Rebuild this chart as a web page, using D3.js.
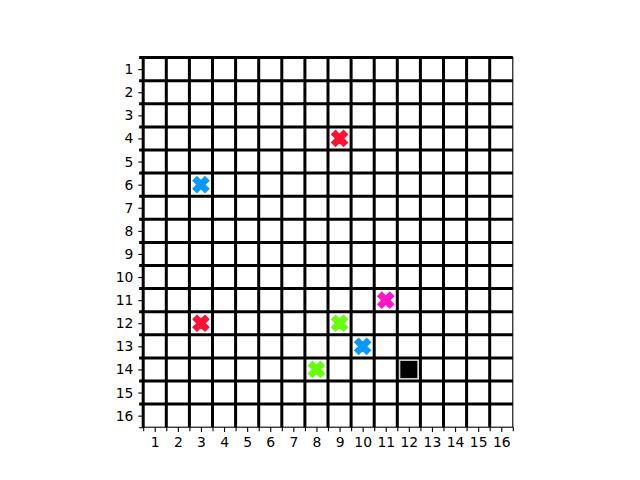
<!DOCTYPE html>
<html><head><meta charset="utf-8">
<script src="https://cdn.jsdelivr.net/npm/d3@7"></script>
<style>body{margin:0;background:#fff}svg{display:block}</style>
</head><body>
<svg id="c" width="640" height="480"></svg>
<script>
const ticks = d3.range(1, 17);
const boundaries = d3.range(0.5, 17, 1);
const markerX = [9, 3, 11, 3, 9, 10, 8];
const markerY = [4, 6, 11, 12, 12, 13, 14];
const markerColor = ["#ff1133", "#0a99ff", "#ff14c8", "#ff1133", "#66ff0a", "#0a99ff", "#66ff0a"];
const squareX = [12];
const squareY = [14];

const svg = d3.select("#c");
const L = 143.2, R = 512.8, T = 57.6, B = 427.2;
const x = d3.scaleLinear().domain([0.5, 16.5]).range([L, R]);
const y = d3.scaleLinear().domain([0.5, 16.5]).range([T, B]);
const font = "DejaVu Sans, sans-serif";

// grid lines (thick)
const g = svg.append("g");
boundaries.slice(0, 16).forEach(v => {
  g.append("line").attr("x1", L - 4).attr("x2", R).attr("y1", y(v)).attr("y2", y(v))
    .attr("stroke", "#000").attr("stroke-width", 3);
  g.append("line").attr("x1", x(v)).attr("x2", x(v)).attr("y1", T).attr("y2", B)
    .attr("stroke", "#000").attr("stroke-width", 3);
});

// spines
svg.append("rect").attr("x", L).attr("y", T).attr("width", R - L).attr("height", B - T)
  .attr("fill", "none").attr("stroke", "#000").attr("stroke-width", 1.1);

// axes
const xAxis = svg.append("g").attr("transform", `translate(0,${B})`)
  .call(d3.axisBottom(x).tickValues(ticks).tickSize(4.9).tickPadding(4.9).tickFormat(d3.format("d")));
const xMinor = svg.append("g").attr("transform", `translate(0,${B})`)
  .call(d3.axisBottom(x).tickValues(boundaries).tickSize(4).tickFormat(""));
const yAxis = svg.append("g").attr("transform", `translate(${L},0)`)
  .call(d3.axisLeft(y).tickValues(ticks).tickSize(4.9).tickPadding(4.9).tickFormat(d3.format("d")));
const yMinor = svg.append("g").attr("transform", `translate(${L},0)`)
  .call(d3.axisLeft(y).tickValues(boundaries).tickSize(4).tickFormat(""));
[xAxis, xMinor, yAxis, yMinor].forEach(a => {
  a.select(".domain").remove();
  a.attr("font-size", null).attr("font-family", null);
  a.selectAll("line").attr("stroke", "#000").attr("stroke-width", 1.1);
  a.selectAll("text").attr("font-family", font).attr("font-size", "13.9px").attr("fill", "#000");
});

// X markers
const s = 16;
const pts = [[0.25,0],[0.5,0.25],[0.25,0.5],[0,0.25],[-0.25,0.5],[-0.5,0.25],[-0.25,0],[-0.5,-0.25],[-0.25,-0.5],[0,-0.25],[0.25,-0.5],[0.5,-0.25]];
const pathX = "M" + pts.map(p => [p[0] * s, p[1] * s].join(",")).join("L") + "Z";
svg.append("g").selectAll("path").data(markerX.map((d, i) => ({x: d, y: markerY[i], c: markerColor[i]})))
  .join("path")
  .attr("d", pathX)
  .attr("transform", d => `translate(${x(d.x)},${y(d.y)})`)
  .attr("fill", d => d.c).attr("stroke", d => d.c).attr("stroke-width", 1.2).attr("stroke-linejoin", "miter");

// square marker
const sq = 18;
svg.append("g").selectAll("rect").data(squareX.map((d, i) => ({x: d, y: squareY[i]})))
  .join("rect")
  .attr("x", d => x(d.x) - sq / 2).attr("y", d => y(d.y) - sq / 2)
  .attr("width", sq).attr("height", sq)
  .attr("fill", "#000").attr("stroke", "#d0d0d0").attr("stroke-width", 1);
</script>
</body></html>
